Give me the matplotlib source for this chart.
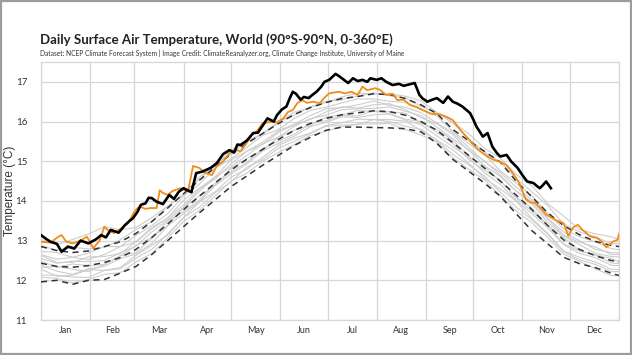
import matplotlib
matplotlib.use("Agg")
import matplotlib.pyplot as plt
from matplotlib.patches import Rectangle

# ---------------- data ----------------
months = ["Jan", "Feb", "Mar", "Apr", "May", "Jun", "Jul", "Aug", "Sep", "Oct", "Nov", "Dec"]
month_starts = [0, 31, 59, 90, 120, 151, 181, 212, 243, 273, 304, 334, 365]
y_ticks = [11, 12, 13, 14, 15, 16, 17]

grid_days = [0, 10, 20, 30, 40, 50, 60, 70, 80, 90, 100, 110, 120, 130, 140, 150, 160, 170, 180,
             190, 200, 210, 220, 230, 240, 250, 260, 270, 280, 290, 300, 310, 320, 330, 340, 350, 360, 365]

mean_1979_2000 = [12.43, 12.35, 12.33, 12.37, 12.45, 12.57, 12.78, 13.08, 13.42, 13.78, 14.12, 14.45, 14.78,
                  15.05, 15.30, 15.55, 15.78, 15.95, 16.08, 16.17, 16.22, 16.27, 16.25, 16.16, 16.00, 15.78,
                  15.47, 15.15, 14.83, 14.50, 14.15, 13.78, 13.38, 13.02, 12.78, 12.62, 12.50, 12.47]
plus_2sigma = [12.85, 12.75, 12.70, 12.74, 12.85, 12.97, 13.18, 13.48, 13.82, 14.18, 14.52, 14.85, 15.18,
               15.45, 15.70, 15.95, 16.18, 16.35, 16.48, 16.58, 16.63, 16.70, 16.68, 16.58, 16.42, 16.20,
               15.80, 15.52, 15.25, 14.98, 14.50, 14.10, 13.70, 13.38, 13.15, 12.98, 12.88, 12.85]
minus_2sigma = [11.96, 12.00, 11.90, 12.00, 12.02, 12.18, 12.35, 12.65, 13.00, 13.35, 13.70, 14.03, 14.36,
                14.63, 14.90, 15.15, 15.40, 15.60, 15.78, 15.86, 15.86, 15.85, 15.84, 15.82, 15.74, 15.45,
                15.05, 14.75, 14.45, 14.12, 13.68, 13.25, 12.92, 12.58, 12.42, 12.32, 12.18, 12.12]

gray_years = [
    [12.08, 12.05, 11.93, 12.02, 12.15, 12.19, 12.46, 12.68, 13.07, 13.48, 13.76, 14.13, 14.50, 14.70, 15.00,
     15.22, 15.42, 15.65, 15.76, 15.87, 15.94, 15.94, 15.95, 15.80, 15.66, 15.48, 15.09, 14.80, 14.53, 14.14,
     13.75, 13.45, 13.08, 12.66, 12.48, 12.29, 12.12, 12.12],
    [12.28, 12.10, 12.13, 12.27, 12.25, 12.32, 12.63, 12.88, 13.14, 13.58, 13.97, 14.23, 14.60, 14.80, 15.10,
     15.40, 15.58, 15.71, 15.90, 15.97, 16.06, 16.05, 16.05, 16.01, 15.78, 15.53, 15.29, 14.95, 14.57, 14.30,
     14.00, 13.56, 13.18, 12.74, 12.58, 12.46, 12.28, 12.27],
    [12.38, 12.23, 12.15, 12.29, 12.35, 12.55, 12.66, 12.93, 13.37, 13.68, 13.98, 14.39, 14.68, 14.93, 15.26,
     15.45, 15.63, 15.87, 15.98, 16.12, 16.10, 16.17, 16.19, 16.04, 15.92, 15.64, 15.37, 15.10, 14.71, 14.42,
     14.01, 13.68, 13.32, 12.90, 12.68, 12.57, 12.38, 12.37],
    [12.48, 12.33, 12.41, 12.37, 12.40, 12.61, 12.88, 13.08, 13.38, 13.83, 14.12, 14.39, 14.82, 15.07, 15.27,
     15.61, 15.78, 15.90, 16.11, 16.17, 16.28, 16.25, 16.25, 16.21, 15.96, 15.80, 15.53, 15.13, 14.86, 14.50,
     14.10, 13.82, 13.38, 13.08, 12.75, 12.64, 12.55, 12.47],
    [12.55, 12.43, 12.48, 12.47, 12.50, 12.69, 12.86, 13.22, 13.52, 13.84, 14.24, 14.60, 14.86, 15.15, 15.44,
     15.61, 15.88, 16.07, 16.16, 16.30, 16.32, 16.33, 16.37, 16.26, 16.15, 15.86, 15.57, 15.29, 14.89, 14.62,
     14.25, 13.93, 13.46, 13.12, 12.90, 12.68, 12.60, 12.59],
    [12.65, 12.53, 12.58, 12.52, 12.65, 12.85, 12.96, 13.30, 13.57, 14.02, 14.32, 14.61, 15.03, 15.25, 15.48,
     15.77, 15.93, 16.15, 16.32, 16.35, 16.42, 16.52, 16.41, 16.36, 16.22, 15.96, 15.72, 15.35, 14.99, 14.72,
     14.35, 14.03, 13.56, 13.22, 13.00, 12.78, 12.70, 12.69],
    [12.73, 12.70, 12.58, 12.69, 12.85, 12.85, 13.13, 13.38, 13.68, 14.12, 14.42, 14.83, 15.06, 15.35, 15.65,
     15.80, 16.08, 16.28, 16.36, 16.47, 16.57, 16.57, 16.51, 16.48, 16.30, 16.14, 15.75, 15.45, 15.17, 14.76,
     14.45, 14.13, 13.68, 13.30, 13.10, 12.97, 12.80, 12.77],
    [12.88, 12.75, 12.83, 12.79, 12.83, 13.02, 13.28, 13.48, 13.86, 14.16, 14.54, 14.93, 15.18, 15.50, 15.68,
     15.97, 16.24, 16.35, 16.51, 16.55, 16.64, 16.72, 16.65, 16.60, 16.38, 16.23, 15.97, 15.57, 15.23, 14.98,
     14.57, 14.23, 13.88, 13.42, 13.22, 13.10, 12.92, 12.92],
    [13.03, 12.90, 13.03, 13.17, 13.35, 13.27, 13.33, 13.58, 13.87, 14.18, 14.60, 14.87, 15.28, 15.50, 15.70,
     16.00, 16.16, 16.37, 16.48, 16.62, 16.72, 16.69, 16.70, 16.64, 16.52, 16.23, 15.97, 15.70, 15.33, 15.08,
     14.67, 14.38, 13.93, 13.62, 13.28, 13.17, 13.10, 13.02],
    [12.33, 12.35, 12.28, 12.22, 12.40, 12.62, 12.70, 13.06, 13.50, 13.73, 14.02, 14.45, 14.73, 14.97, 15.32,
     15.51, 15.68, 15.95, 16.02, 16.15, 16.14, 16.27, 16.20, 16.06, 16.00, 15.73, 15.45, 15.05, 14.78, 14.52,
     14.07, 13.74, 13.38, 12.92, 12.74, 12.64, 12.44, 12.42],
    [12.63, 12.45, 12.45, 12.59, 12.60, 12.67, 12.98, 13.33, 13.57, 13.90, 14.30, 14.55, 14.93, 15.25, 15.42,
     15.73, 15.92, 16.05, 16.24, 16.37, 16.34, 16.42, 16.45, 16.30, 16.10, 15.94, 15.67, 15.27, 15.01, 14.65,
     14.25, 13.98, 13.54, 13.14, 12.96, 12.84, 12.65, 12.65],
    [12.13, 12.13, 12.08, 12.07, 12.25, 12.29, 12.56, 12.78, 13.17, 13.58, 13.84, 14.21, 14.48, 14.85, 15.04,
     15.33, 15.50, 15.70, 15.88, 15.91, 15.92, 16.05, 16.00, 15.88, 15.80, 15.52, 15.17, 14.91, 14.63, 14.22,
     13.85, 13.53, 13.16, 12.72, 12.52, 12.40, 12.22, 12.22],
]

days_2023 = [0, 6, 11, 13, 16, 20, 25, 29, 33, 37, 40, 42, 46, 51, 55, 59, 61, 63, 66, 69, 73, 75, 77, 80,
             83, 88, 91, 93, 96, 100, 104, 108, 111, 115, 119, 123, 126, 129, 133, 136, 140, 145, 149, 153,
             156, 159, 162, 165, 168, 172, 176, 179, 182, 188, 192, 196, 200, 203, 206, 211, 214, 218, 222,
             225, 229, 233, 237, 241, 246, 252, 256, 260, 265, 269, 273, 276, 279, 285, 290, 294, 298, 302,
             306, 309, 312, 315, 319, 323, 326, 330, 333, 336, 339, 342, 347, 351, 354, 357, 361, 364, 365]
temp_2023 = [12.97, 12.95, 13.10, 13.14, 12.97, 12.93, 13.00, 13.10, 12.81, 13.00, 13.35, 13.27, 13.19, 13.32,
             13.44, 13.73, 13.82, 13.85, 13.80, 13.82, 13.82, 14.27, 14.20, 14.15, 14.25, 14.32, 14.27, 14.27,
             14.88, 14.83, 14.70, 14.65, 14.88, 14.99, 15.20, 15.28, 15.25, 15.41, 15.66, 15.74, 15.96, 15.99,
             15.98, 16.08, 16.24, 16.29, 16.47, 16.54, 16.47, 16.50, 16.46, 16.60, 16.71, 16.75, 16.71, 16.75,
             16.67, 16.88, 16.79, 16.84, 16.80, 16.67, 16.70, 16.54, 16.55, 16.42, 16.37, 16.29, 16.20, 16.18,
             16.12, 16.04, 15.78, 15.60, 15.42, 15.30, 15.20, 15.05, 14.98, 14.90, 14.70, 14.45, 14.05, 13.96,
             13.95, 13.84, 13.66, 13.56, 13.50, 13.44, 13.12, 13.33, 13.40, 13.27, 13.10, 13.07, 12.98, 12.83,
             12.97, 13.02, 13.17]

days_2024 = [0, 3, 6, 10, 13, 17, 21, 25, 30, 35, 38, 41, 44, 49, 53, 56, 58, 61, 63, 66, 68, 70, 73, 77,
             81, 84, 87, 90, 95, 98, 102, 107, 111, 115, 119, 122, 124, 126, 130, 134, 137, 140, 143, 147,
             149, 152, 155, 157, 159, 161, 164, 166, 169, 171, 174, 177, 179, 182, 186, 188, 190, 194, 197,
             200, 203, 206, 208, 212, 215, 218, 222, 226, 229, 231, 236, 239, 241, 244, 247, 250, 254, 257,
             260, 263, 266, 269, 271, 273, 275, 277, 279, 282, 285, 288, 290, 294, 297, 301, 304, 307, 311,
             313, 315, 317, 319, 322]
temp_2024 = [13.14, 13.05, 12.97, 12.92, 12.72, 12.85, 12.80, 13.00, 12.93, 13.04, 13.14, 13.08, 13.27, 13.20,
             13.39, 13.50, 13.56, 13.73, 13.90, 13.94, 14.08, 14.07, 13.98, 13.92, 14.15, 14.05, 14.23, 14.32,
             14.22, 14.70, 14.74, 14.83, 14.95, 15.18, 15.28, 15.22, 15.42, 15.41, 15.52, 15.71, 15.72, 15.90,
             16.08, 16.00, 16.16, 16.30, 16.38, 16.58, 16.75, 16.70, 16.55, 16.62, 16.59, 16.66, 16.75, 16.88,
             17.00, 17.05, 17.20, 17.15, 17.09, 16.97, 17.09, 17.02, 17.05, 17.00, 17.09, 17.05, 17.09, 17.00,
             16.92, 16.95, 16.90, 16.92, 16.97, 16.67, 16.58, 16.50, 16.55, 16.59, 16.47, 16.63, 16.50, 16.45,
             16.38, 16.28, 16.21, 16.05, 15.87, 15.75, 15.62, 15.71, 15.37, 15.20, 15.12, 15.16, 14.99, 14.83,
             14.65, 14.49, 14.45, 14.38, 14.32, 14.40, 14.49, 14.32]

title = "Daily Surface Air Temperature, World (90°S-90°N, 0-360°E)"
subtitle = ("Dataset: NCEP Climate Forecast System | Image Credit: ClimateReanalyzer.org, "
            "Climate Change Institute, University of Maine")
ylabel = "Temperature (°C)"

# ---------------- figure ----------------
W, H = 632, 355
fig = plt.figure(figsize=(W / 100, H / 100), dpi=100)
fig.patch.set_facecolor("white")
fig.add_artist(Rectangle((0.0015, 0.002), 0.997, 0.995, transform=fig.transFigure,
                         fill=False, edgecolor="#9c9c9c", linewidth=1.6))

ax = fig.add_axes([41 / W, 1 - 320 / H, (619 - 41) / W, (320 - 62) / H])
ax.set_xlim(0, 365)
ax.set_ylim(11, 17.5)

grid_c = "#d6d6d6"
for d in month_starts:
    ax.axvline(d, color=grid_c, lw=0.9, zorder=0)
for t in y_ticks:
    ax.axhline(t, color=grid_c, lw=0.9, zorder=0)
for s in ax.spines.values():
    s.set_color(grid_c)
    s.set_linewidth(0.9)

for g in gray_years:
    ax.plot(grid_days, g, color="#cdcdcd", lw=0.8, zorder=1)

dash = (0, (4, 3))
ax.plot(grid_days, plus_2sigma, color="#333333", lw=1.1, linestyle=dash, zorder=3)
ax.plot(grid_days, minus_2sigma, color="#333333", lw=1.1, linestyle=dash, zorder=3)
ax.plot(grid_days, mean_1979_2000, color="#333333", lw=1.1, linestyle=dash, zorder=3)

ax.plot(days_2023, temp_2023, color="#f18c16", lw=1.3, zorder=4)
ax.plot(days_2024, temp_2024, color="#000000", lw=1.9, zorder=5)

mid = [(month_starts[i] + month_starts[i + 1]) / 2 for i in range(12)]
ax.set_xticks(mid)
ax.set_xticklabels(months, fontsize=6.5, color="#333333", family=["Lato", "DejaVu Sans"])
ax.set_yticks(y_ticks)
ax.set_yticklabels([str(t) for t in y_ticks], fontsize=7, color="#333333", family=["Lato", "DejaVu Sans"])
ax.tick_params(axis="x", length=0, pad=4)
ax.tick_params(axis="y", length=0, pad=10)

fig.text(10 / W, 1 - 191 / H, ylabel, fontsize=8.5, color="#333333", rotation=90,
         family=["Liberation Sans", "DejaVu Sans"], va="center", ha="center")
fig.text(40 / W, 1 - 40 / H, title, fontsize=9.5, fontweight="bold", color="#222222",
         family=["Lato", "DejaVu Sans"], va="center", ha="left")
fig.text(40 / W, 1 - 53 / H, subtitle, fontsize=4.8, color="#333333",
         family=["Lato", "DejaVu Sans"], va="center", ha="left")

fig.savefig("out.png", dpi=100, facecolor="white")
